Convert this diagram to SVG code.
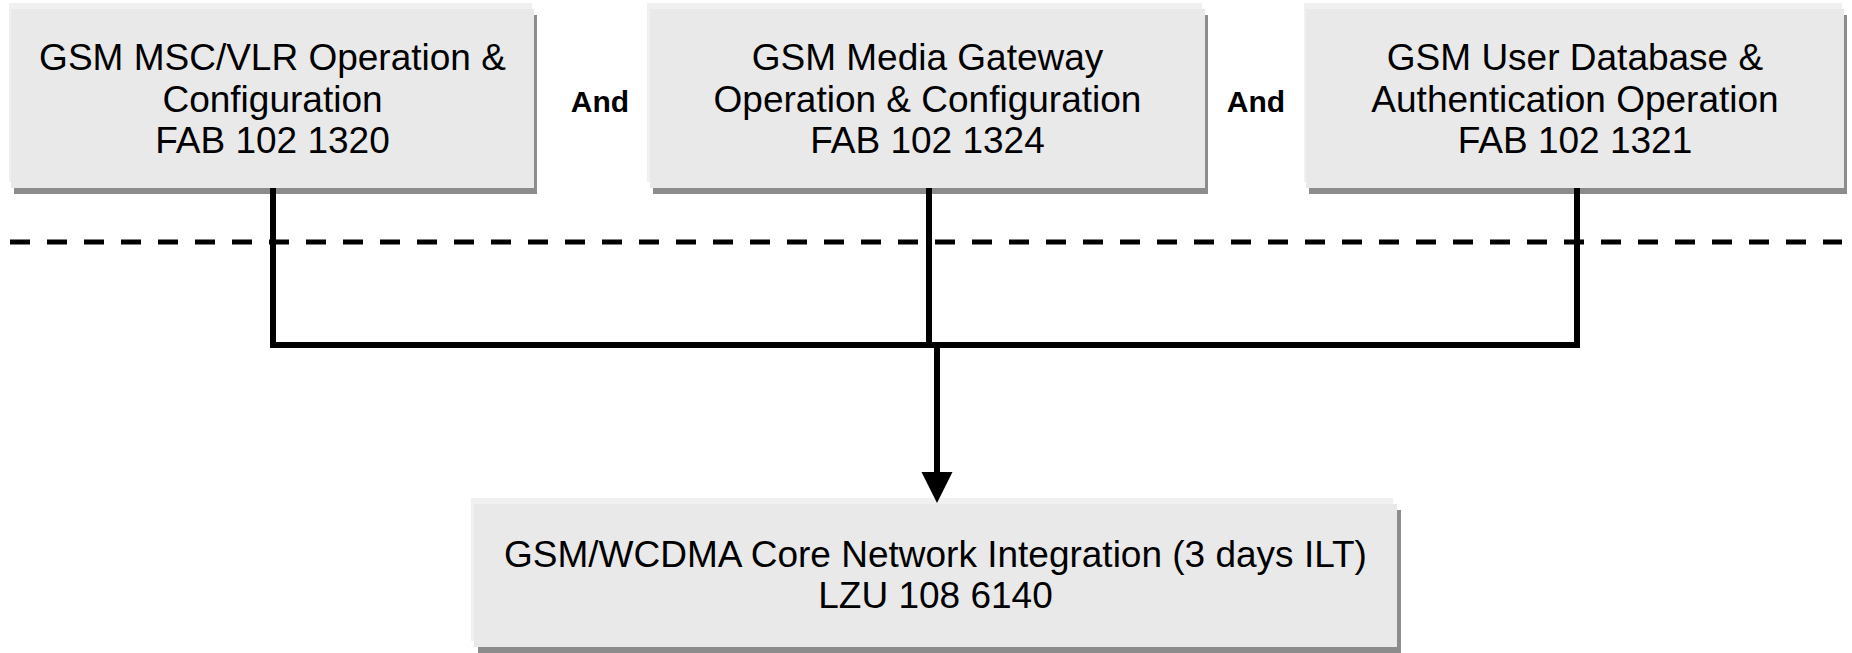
<svg xmlns="http://www.w3.org/2000/svg" width="1852" height="653" viewBox="0 0 1852 653">
<style>
.hl{fill:#f0f0f0}
.sh{fill:#8c8c8c}
.bx{fill:#e9e9e9}
.t{font-family:"Liberation Sans",Arial,sans-serif;font-size:37px;fill:#000;text-anchor:middle}
.and{font-family:"Liberation Sans",Arial,sans-serif;font-size:30px;font-weight:bold;fill:#000;text-anchor:middle}
.ln{fill:none;stroke:#000;stroke-width:6;stroke-linejoin:miter;stroke-linecap:butt}
.dash{fill:none;stroke:#000;stroke-width:5;stroke-dasharray:20 17}
</style>
<defs>
<marker id="ah" markerUnits="userSpaceOnUse" markerWidth="32" markerHeight="32" refX="0" refY="16" orient="auto" viewBox="0 0 32 32">
<path d="M0 0.5 L31 16 L0 31.5 Z" fill="#000"/>
</marker>
</defs>
<rect id="background" width="1852" height="653" fill="#fff"/>
<line class="dash" x1="10" y1="242" x2="1842" y2="242"/>
<g id="n1">
<rect class="hl" x="9" y="3" width="523" height="179"/>
<rect class="sh" x="14" y="15" width="523" height="179"/>
<rect class="bx" x="11" y="9" width="523" height="179"/>
<text class="t" x="272.5" y="70">GSM MSC/VLR Operation &amp;</text>
<text class="t" x="272.5" y="111.5">Configuration</text>
<text class="t" x="272.5" y="153">FAB 102 1320</text>
</g>
<g id="n2">
<rect class="hl" x="647" y="3" width="555" height="179"/>
<rect class="sh" x="653" y="15" width="555" height="179"/>
<rect class="bx" x="650" y="9" width="555" height="179"/>
<text class="t" x="927.5" y="70">GSM Media Gateway</text>
<text class="t" x="927.5" y="111.5">Operation &amp; Configuration</text>
<text class="t" x="927.5" y="153">FAB 102 1324</text>
</g>
<g id="n3">
<rect class="hl" x="1304" y="3" width="538" height="179"/>
<rect class="sh" x="1309" y="15" width="538" height="179"/>
<rect class="bx" x="1306" y="9" width="538" height="179"/>
<text class="t" x="1575" y="70">GSM User Database &amp;</text>
<text class="t" x="1575" y="111.5">Authentication Operation</text>
<text class="t" x="1575" y="153">FAB 102 1321</text>
</g>
<g id="and1"><text class="and" x="600" y="112">And</text></g>
<g id="and2"><text class="and" x="1256" y="112">And</text></g>
<g id="n4">
<rect class="hl" x="471" y="498" width="922" height="143"/>
<rect class="sh" x="478" y="510" width="923" height="143"/>
<rect class="bx" x="474" y="504" width="923" height="143"/>
<text class="t" x="935.5" y="567">GSM/WCDMA Core Network Integration (3 days ILT)</text>
<text class="t" x="935.5" y="608">LZU 108 6140</text>
</g>
<g id="connectors">
<path class="ln" d="M273 188 V345 H1577 V188"/>
<path class="ln" d="M929 188 V345"/>
<path class="ln" d="M937 342 V472" marker-end="url(#ah)"/>
</g>
</svg>
